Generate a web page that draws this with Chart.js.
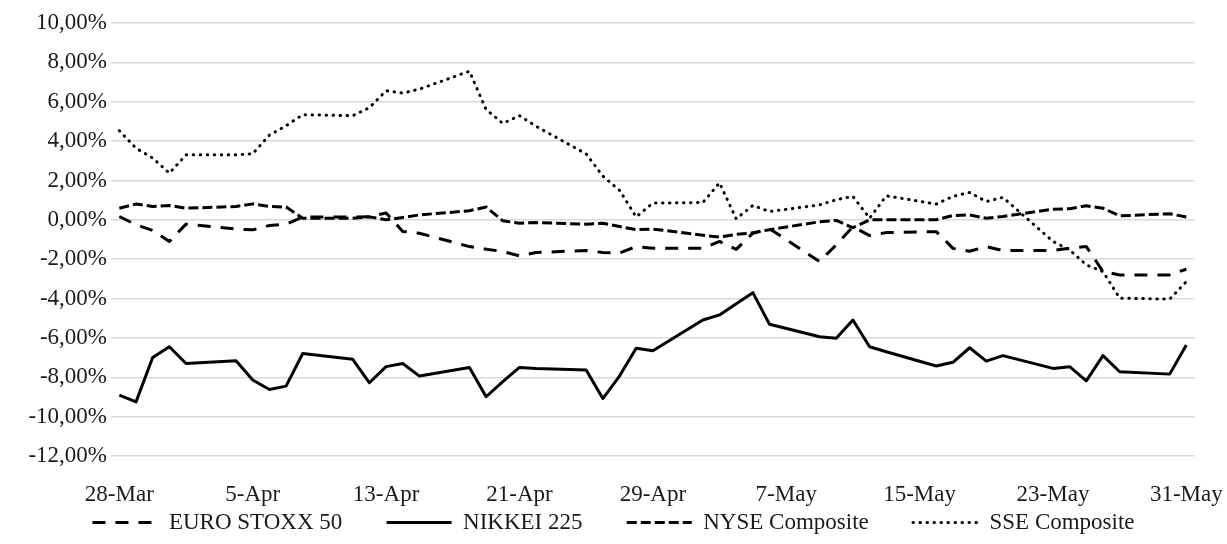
<!DOCTYPE html>
<html>
<head>
<meta charset="utf-8">
<script src="https://cdn.jsdelivr.net/npm/chart.js@4.4.1/dist/chart.umd.min.js"></script>
<style>
  html, body { margin: 0; padding: 0; background: #fff; }
  #wrap { width: 1227px; height: 544px; }
</style>
</head>
<body>
<div id="wrap"><canvas id="returnsChart"></canvas></div>
<script>
// calendar days 28-Mar .. 31-May, weekends left empty
const days = [
  "28-Mar", "29-Mar", "30-Mar", "31-Mar", "1-Apr", "2-Apr", "3-Apr",
  "4-Apr", "5-Apr", "6-Apr", "7-Apr", "8-Apr", "9-Apr", "10-Apr",
  "11-Apr", "12-Apr", "13-Apr", "14-Apr", "15-Apr", "16-Apr", "17-Apr",
  "18-Apr", "19-Apr", "20-Apr", "21-Apr", "22-Apr", "23-Apr", "24-Apr",
  "25-Apr", "26-Apr", "27-Apr", "28-Apr", "29-Apr", "30-Apr", "1-May",
  "2-May", "3-May", "4-May", "5-May", "6-May", "7-May", "8-May",
  "9-May", "10-May", "11-May", "12-May", "13-May", "14-May", "15-May",
  "16-May", "17-May", "18-May", "19-May", "20-May", "21-May", "22-May",
  "23-May", "24-May", "25-May", "26-May", "27-May", "28-May", "29-May",
  "30-May", "31-May"
];

// returns in %
const euroStoxx = [
  0.17, -0.25, -0.54, -1.10, -0.22, null, null,
  -0.47, -0.51, -0.29, -0.22, 0.14, null, null,
  0.14, 0.15, 0.35, -0.59, -0.68, null, null,
  -1.36, -1.49, -1.61, -1.83, -1.66, null, null,
  -1.56, -1.66, -1.69, -1.36, -1.44, null, null,
  -1.45, -1.10, -1.50, -0.68, -0.45, null, null,
  -2.12, -1.27, -0.35, -0.80, -0.65, null, null,
  -0.60, -1.45, -1.60, -1.36, -1.56, null, null,
  -1.56, -1.44, -1.36, -2.63, -2.80, null, null,
  -2.80, -2.51
];

const nikkei = [
  -8.91, -9.25, -7.00, -6.45, -7.30, null, null,
  -7.16, -8.14, -8.62, -8.45, -6.79, null, null,
  -7.09, -8.28, -7.46, -7.30, -7.94, null, null,
  -7.50, -8.99, -8.22, -7.50, -7.55, null, null,
  -7.63, -9.08, -7.94, -6.53, -6.65, null, null,
  -5.09, -4.83, -4.27, -3.70, -5.31, null, null,
  -5.94, -6.02, -5.09, -6.45, -6.70, null, null,
  -7.43, -7.24, -6.50, -7.18, -6.90, null, null,
  -7.55, -7.46, -8.18, -6.90, -7.72, null, null,
  -7.84, -6.36
];

const nyse = [
  0.59, 0.80, 0.68, 0.73, 0.59, null, null,
  0.68, 0.81, 0.68, 0.65, 0.08, null, null,
  0.08, 0.15, 0.00, 0.12, 0.25, null, null,
  0.46, 0.65, -0.05, -0.17, -0.14, null, null,
  -0.22, -0.17, -0.34, -0.50, -0.47, null, null,
  -0.78, -0.88, -0.74, -0.66, -0.50, null, null,
  -0.10, -0.03, -0.40, 0.00, 0.00, null, null,
  0.00, 0.22, 0.25, 0.08, 0.17, null, null,
  0.54, 0.56, 0.71, 0.59, 0.20, null, null,
  0.31, 0.14
];

const sse = [
  4.53, 3.64, 3.14, 2.37, 3.30, null, null,
  3.30, 3.36, 4.30, 4.78, 5.34, null, null,
  5.29, 5.70, 6.56, 6.44, 6.64, null, null,
  7.55, 5.60, 4.90, 5.29, 4.75, null, null,
  3.35, 2.22, 1.50, 0.15, 0.85, null, null,
  0.88, 1.88, 0.05, 0.73, 0.42, null, null,
  0.76, 1.02, 1.19, 0.08, 1.22, null, null,
  0.80, 1.19, 1.39, 0.93, 1.14, null, null,
  -1.10, -1.53, -2.29, -2.63, -3.98, null, null,
  -4.03, -3.14
];

const FONT = { family: "'Liberation Serif', 'Times New Roman', serif", size: 23 };
const TEXT = "#1a1a1a";
const GAP = "       "; // extra room between legend entries

const mkLine = (label, data, dash, cap) => ({
  label: label,
  data: data,
  yAxisID: "y",
  borderColor: "#000",
  backgroundColor: "#000",
  borderWidth: 3,
  borderDash: dash,
  borderCapStyle: cap,
  borderJoinStyle: "round",
  pointRadius: 0,
  pointHoverRadius: 0,
  tension: 0,
  spanGaps: true,
  fill: false,
});

const ctx = document.getElementById("returnsChart").getContext("2d");
new Chart(ctx, {
  type: "line",
  data: {
    labels: days,
    datasets: [
      mkLine("EURO STOXX 50", euroStoxx, [13, 10], "butt"),
      mkLine("NIKKEI 225", nikkei, [], "butt"),
      mkLine("NYSE Composite", nyse, [10, 4], "butt"),
      mkLine("SSE Composite", sse, [0.5, 6.5], "round"),
    ],
  },
  options: {
    responsive: true,
    maintainAspectRatio: false,
    animation: false,
    layout: { padding: { top: 23, right: 0, left: 0, bottom: 0 } },
    plugins: {
      tooltip: { enabled: false },
      legend: {
        position: "bottom",
        labels: {
          usePointStyle: true,
          pointStyleWidth: 65,
          padding: 4,
          color: TEXT,
          font: FONT,
          generateLabels: (chart) => chart.data.datasets.map((ds, i, all) => ({
            text: i < all.length - 1 ? ds.label + GAP : ds.label,
            fillStyle: "#000",
            strokeStyle: "#000",
            lineWidth: 3,
            lineDash: ds.borderDash,
            lineCap: ds.borderCapStyle,
            pointStyle: "line",
            fontColor: TEXT,
            hidden: false,
            datasetIndex: i,
          })),
        },
      },
    },
    scales: {
      x: {
        offset: true,
        grid: { display: false, drawTicks: false },
        border: { display: false },
        ticks: {
          autoSkip: false,
          maxRotation: 0,
          padding: 4,
          color: TEXT,
          font: { ...FONT, lineHeight: 3 },
          callback: (v, i) => (i % 8 === 0 ? days[i] : ""),
        },
        afterFit: (scale) => { scale.height = 51; },
      },
      y: {
        min: -12,
        max: 10,
        grid: { color: "#d9d9d9", lineWidth: 1.5, drawTicks: false },
        border: { display: false },
        ticks: {
          stepSize: 2,
          padding: 4,
          color: TEXT,
          font: FONT,
          callback: (v) => v.toFixed(2).replace(".", ",") + "%",
        },
        afterFit: (scale) => { scale.width = 111; },
      },
      // empty strip on the right so the plot ends where the original does
      yRight: {
        position: "right",
        grid: { display: false, drawTicks: false },
        border: { display: false },
        ticks: { display: false },
        afterFit: (scale) => { scale.width = 32; },
      },
    },
  },
});
</script>
</body>
</html>
